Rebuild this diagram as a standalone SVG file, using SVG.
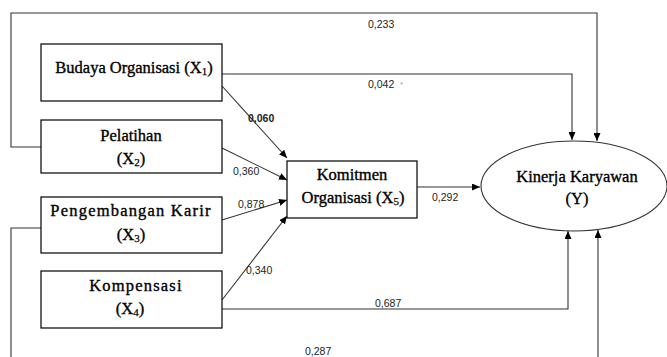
<svg xmlns="http://www.w3.org/2000/svg" width="667" height="357" viewBox="0 0 667 357">
<defs>
<marker id="ah" markerUnits="userSpaceOnUse" markerWidth="9" markerHeight="7" refX="8" refY="3.5" orient="auto">
<path d="M0,0 L8,3.5 L0,7 z" fill="#000"/>
</marker>
<style>
.box{fill:#fff;stroke:#000;stroke-width:1.2}
.node{font-family:"Liberation Serif","Times New Roman",serif;font-size:16.5px;fill:#000;stroke:#000;stroke-width:0.35;text-anchor:middle}
.sub{font-size:11px;stroke-width:0.25}
.lbl{font-family:"Liberation Sans",Arial,sans-serif;font-size:10.5px;fill:#222}
.ln{fill:none;stroke:#333;stroke-width:1.1}
.arr{marker-end:url(#ah)}
</style>
</defs>
<rect width="667" height="357" fill="#fff"/>
<g id="connectors">
<path class="ln arr" d="M41,147 H11 V13 H597 V141"/>
<path class="ln arr" d="M222,74 H572 V140"/>
<path class="ln arr" d="M417,187 H480"/>
<path class="ln arr" d="M222,309 H568 V231"/>
<path class="ln" d="M41,228 H11 V357"/>
<path class="ln arr" d="M598,357 V230"/>
<path class="ln arr" d="M222,86 L287,158"/>
<path class="ln arr" d="M222,148 L287,180"/>
<path class="ln arr" d="M222,220 L287,200"/>
<path class="ln arr" d="M222,300 L287,216"/>
</g>
<g id="labels">
<text class="lbl" x="368" y="28">0,233</text>
<text class="lbl" x="368" y="88">0,042</text>
<text x="400" y="87" font-family="Liberation Sans,Arial,sans-serif" font-size="8" fill="#999">*</text>
<text class="lbl" x="248" y="122" font-weight="bold">0,060</text>
<text class="lbl" x="233" y="175">0,360</text>
<text class="lbl" x="238" y="208">0,878</text>
<text class="lbl" x="246" y="274">0,340</text>
<text class="lbl" x="432" y="201">0,292</text>
<text class="lbl" x="375" y="307">0,687</text>
<text class="lbl" x="305" y="355">0,287</text>
</g>
<g id="x1">
<rect class="box" x="41" y="44" width="181" height="57"/>
<text class="node" x="134" y="73">Budaya Organisasi (X<tspan class="sub" dy="2">1</tspan><tspan dy="-2">)</tspan></text>
</g>
<g id="x2">
<rect class="box" x="41" y="120" width="181" height="53"/>
<text class="node" x="131" y="141">Pelatihan</text>
<text class="node" x="131" y="164">(X<tspan class="sub" dy="2">2</tspan><tspan dy="-2">)</tspan></text>
</g>
<g id="x3">
<rect class="box" x="41" y="197" width="181" height="56"/>
<text class="node" x="131" y="216" letter-spacing="1.2">Pengembangan Karir</text>
<text class="node" x="131" y="240">(X<tspan class="sub" dy="2">3</tspan><tspan dy="-2">)</tspan></text>
</g>
<g id="x4">
<rect class="box" x="41" y="271" width="181" height="57"/>
<text class="node" x="136" y="291" letter-spacing="1.2">Kompensasi</text>
<text class="node" x="130" y="314">(X<tspan class="sub" dy="2">4</tspan><tspan dy="-2">)</tspan></text>
</g>
<g id="x5">
<rect class="box" x="287" y="161" width="130" height="57"/>
<text class="node" x="352" y="180">Komitmen</text>
<text class="node" x="353" y="203">Organisasi (X<tspan class="sub" dy="2">5</tspan><tspan dy="-2">)</tspan></text>
</g>
<g id="y">
<ellipse cx="574" cy="186" rx="93" ry="45" fill="#fff" stroke="#333" stroke-width="1.1"/>
<text class="node" x="577" y="182">Kinerja Karyawan</text>
<text class="node" x="577" y="204">(Y)</text>
</g>
</svg>
